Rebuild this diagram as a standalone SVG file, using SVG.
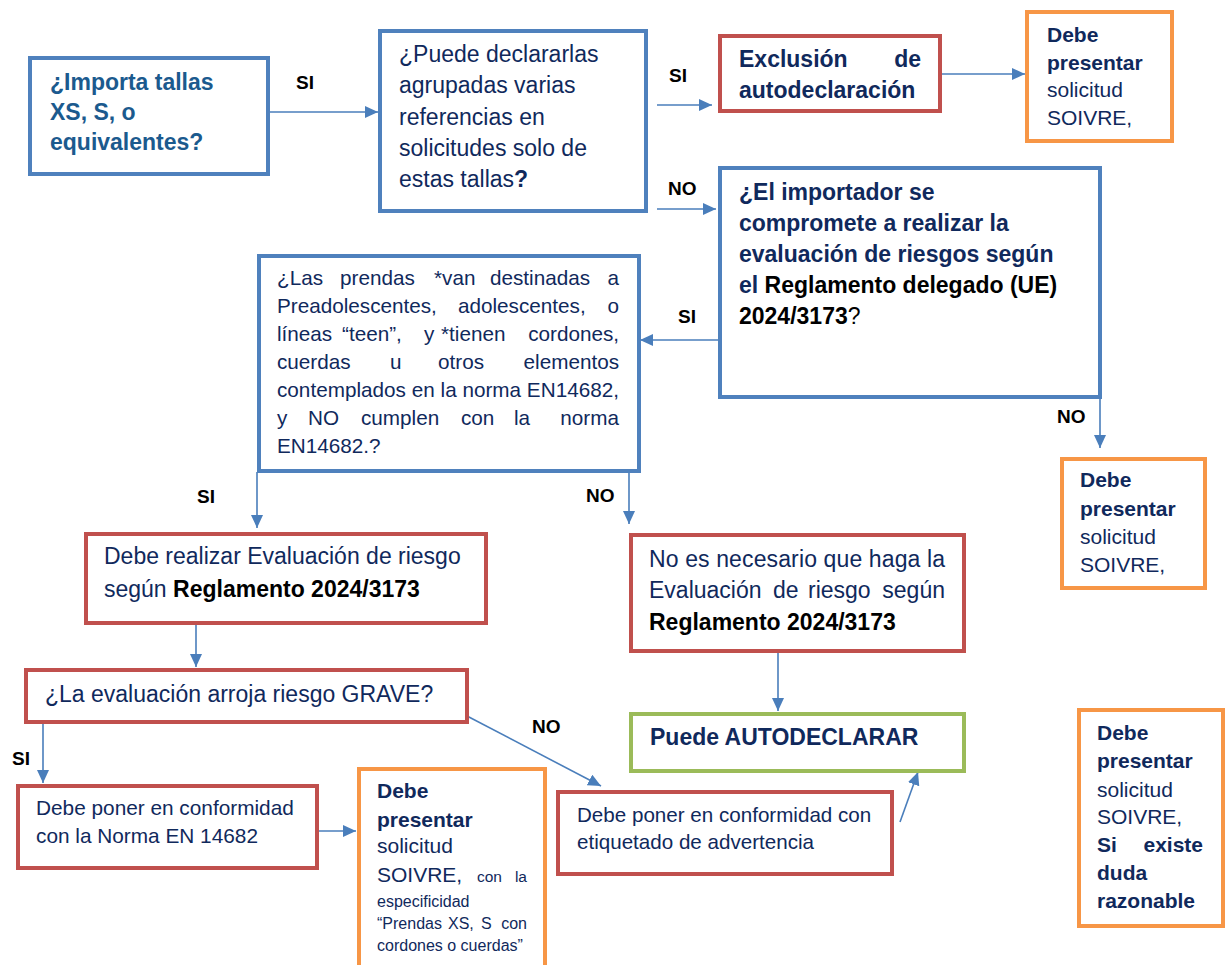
<svg xmlns="http://www.w3.org/2000/svg" width="1230" height="965" viewBox="0 0 1230 965">
<defs>
<style>
.bx{fill:#fff;stroke-width:4}
.blue{stroke:#4F81BD}
.red{stroke:#C0504D}
.org{stroke:#F79646}
.grn{stroke:#9BBB59}
text{font-family:"Liberation Sans",Arial,sans-serif}
.nv{fill:#10295C}
.tl{fill:#1B5A8E}
.bk{fill:#000}
.b{font-weight:bold}
.lbl{font-family:"Liberation Sans",Arial,sans-serif;font-weight:bold;font-size:19px;fill:#000}
.con line{stroke:#4A7EBB;stroke-width:1.6;marker-end:url(#ah)}
</style>
<marker id="ah" markerUnits="userSpaceOnUse" markerWidth="13" markerHeight="12" viewBox="0 0 13 12" refX="13" refY="6" orient="auto">
<path d="M0,0 L13,6 L0,12 z" fill="#4A7EBB"/>
</marker>
</defs>
<rect width="1230" height="965" fill="#fff"/>

<g class="con">
<line x1="269" y1="112" x2="378" y2="112"/>
<line x1="657" y1="105" x2="712" y2="105"/>
<line x1="657" y1="209" x2="716" y2="209"/>
<line x1="942" y1="74" x2="1025" y2="74"/>
<line x1="718" y1="340" x2="640" y2="340"/>
<line x1="1100" y1="398" x2="1100" y2="448"/>
<line x1="257" y1="472" x2="257" y2="528"/>
<line x1="629" y1="466" x2="629" y2="524"/>
<line x1="196" y1="623" x2="196" y2="667"/>
<line x1="778" y1="653" x2="778" y2="711"/>
<line x1="43" y1="723" x2="43" y2="783"/>
<line x1="467" y1="716" x2="601" y2="786"/>
<line x1="318" y1="831" x2="356" y2="831"/>
<line x1="900" y1="822" x2="918" y2="772"/>
</g>

<g id="labels">
<text class="lbl" x="296" y="89">SI</text>
<text class="lbl" x="669" y="82">SI</text>
<text class="lbl" x="668" y="195">NO</text>
<text class="lbl" x="678" y="323">SI</text>
<text class="lbl" x="1057" y="423">NO</text>
<text class="lbl" x="197" y="503">SI</text>
<text class="lbl" x="586" y="502">NO</text>
<text class="lbl" x="532" y="733">NO</text>
<text class="lbl" x="12" y="765">SI</text>
</g>

<g id="n1">
<rect class="bx blue" x="30" y="58" width="238" height="116"/>
<text class="tl b" font-size="23"><tspan x="50" y="90">¿Importa tallas</tspan><tspan x="50" y="120">XS, S, o</tspan><tspan x="50" y="150">equivalentes?</tspan></text>
</g>

<g id="n2">
<rect class="bx blue" x="380" y="31" width="266" height="180"/>
<text class="nv" font-size="23"><tspan x="399" y="62">¿Puede declararlas</tspan><tspan x="399" y="93">agrupadas varias</tspan><tspan x="399" y="125">referencias en</tspan><tspan x="399" y="156">solicitudes solo de</tspan><tspan x="399" y="187">estas tallas<tspan class="b">?</tspan></tspan></text>
</g>

<g id="n3">
<rect class="bx red" x="720" y="36" width="220" height="75"/>
<text class="nv b" font-size="23" x="739" y="67">Exclusión</text>
<text class="nv b" font-size="23" x="921" y="67" text-anchor="end">de</text>
<text class="nv b" font-size="23" x="739" y="98">autodeclaración</text>
</g>

<g id="n4">
<rect class="bx org" x="1027" y="12" width="145" height="129"/>
<text class="nv" font-size="21"><tspan class="b" x="1047" y="42">Debe</tspan><tspan class="b" x="1047" y="70">presentar</tspan><tspan x="1047" y="97">solicitud</tspan><tspan x="1047" y="125">SOIVRE,</tspan></text>
</g>

<g id="n5">
<rect class="bx blue" x="720" y="168" width="380" height="229"/>
<text class="b" font-size="23"><tspan class="nv" x="739" y="200">¿El importador se</tspan><tspan class="nv" x="739" y="231">compromete a realizar la</tspan><tspan class="nv" x="739" y="262">evaluación de riesgos según</tspan><tspan x="739" y="293"><tspan class="nv">el</tspan> <tspan class="bk">Reglamento delegado (UE)</tspan></tspan><tspan class="bk" x="739" y="324">2024/3173<tspan font-weight="normal">?</tspan></tspan></text>
</g>

<g id="n6">
<rect class="bx blue" x="259" y="256" width="380" height="215"/>
<g class="nv" font-size="20.7">
<text x="277" y="285">¿Las</text><text x="340" y="285">prendas</text><text x="434" y="285">*van</text><text x="490" y="285">destinadas</text><text x="619" y="285" text-anchor="end">a</text>
<text x="277" y="313">Preadolescentes,</text><text x="458" y="313">adolescentes,</text><text x="619" y="313" text-anchor="end">o</text>
<text x="277" y="341">líneas</text><text x="342" y="341">“teen”,</text><text x="424" y="341">y</text><text x="441" y="341">*tienen</text><text x="619" y="341" text-anchor="end">cordones,</text>
<text x="277" y="369">cuerdas</text><text x="390" y="369">u</text><text x="438" y="369">otros</text><text x="619" y="369" text-anchor="end">elementos</text>
<text x="277" y="397" textLength="342" lengthAdjust="spacing">contemplados en la norma EN14682,</text>
<text x="277" y="425">y</text><text x="308" y="425">NO</text><text x="361" y="425">cumplen</text><text x="461" y="425">con</text><text x="514" y="425">la</text><text x="619" y="425" text-anchor="end">norma</text>
<text x="277" y="453">EN14682.?</text>
</g>
</g>

<g id="n7">
<rect class="bx red" x="86" y="534" width="400" height="89"/>
<text font-size="23"><tspan class="nv" x="104" y="564">Debe realizar Evaluación de riesgo</tspan><tspan x="104" y="597"><tspan class="nv">según </tspan><tspan class="bk b">Reglamento 2024/3173</tspan></tspan></text>
</g>

<g id="n8">
<rect class="bx red" x="631" y="535" width="333" height="116"/>
<g font-size="23">
<text class="nv" x="649" y="567" textLength="296" lengthAdjust="spacing">No es necesario que haga la</text>
<text class="nv" x="649" y="598">Evaluación</text><text class="nv" x="773" y="598">de</text><text class="nv" x="808" y="598">riesgo</text><text class="nv" x="945" y="598" text-anchor="end">según</text>
<text class="bk b" x="649" y="630">Reglamento 2024/3173</text>
</g>
</g>

<g id="n9">
<rect class="bx org" x="1062" y="459" width="143" height="129"/>
<text class="nv" font-size="21"><tspan class="b" x="1080" y="487">Debe</tspan><tspan class="b" x="1080" y="516">presentar</tspan><tspan x="1080" y="544">solicitud</tspan><tspan x="1080" y="572">SOIVRE,</tspan></text>
</g>

<g id="n10">
<rect class="bx red" x="26" y="670" width="441" height="52"/>
<text class="nv" font-size="23" x="45" y="702">¿La evaluación arroja riesgo GRAVE?</text>
</g>

<g id="n11">
<rect class="bx grn" x="631" y="714" width="333" height="57"/>
<text class="nv b" font-size="23" x="650" y="745">Puede AUTODECLARAR</text>
</g>

<g id="n12">
<rect class="bx org" x="1079" y="710" width="144" height="216"/>
<g class="nv" font-size="21">
<text class="b" x="1097" y="740">Debe</text>
<text class="b" x="1097" y="768">presentar</text>
<text x="1097" y="797">solicitud</text>
<text x="1097" y="824">SOIVRE,</text>
<text class="b" x="1097" y="852">Si</text><text class="b" x="1203" y="852" text-anchor="end">existe</text>
<text class="b" x="1097" y="880">duda</text>
<text class="b" x="1097" y="908">razonable</text>
</g>
</g>

<g id="n13">
<rect class="bx red" x="18" y="786" width="299" height="82"/>
<text class="nv" font-size="20.8"><tspan x="36" y="815">Debe poner en conformidad</tspan><tspan x="36" y="843">con la Norma EN 14682</tspan></text>
</g>

<g id="n14">
<rect class="bx org" x="359" y="769" width="186" height="240"/>
<g class="nv">
<text class="b" font-size="21" x="377" y="798">Debe</text>
<text class="b" font-size="21" x="377" y="827">presentar</text>
<text font-size="21" x="377" y="853">solicitud</text>
<text font-size="21" x="377" y="882">SOIVRE,</text><text font-size="15.5" x="477" y="882">con</text><text font-size="15.5" x="527" y="882" text-anchor="end">la</text>
<text font-size="16" x="377" y="907">especificidad</text>
<text font-size="16" x="377" y="929">“Prendas</text><text font-size="16" x="448" y="929">XS,</text><text font-size="16" x="481" y="929">S</text><text font-size="16" x="527" y="929" text-anchor="end">con</text>
<text font-size="16" x="377" y="951">cordones o cuerdas”</text>
</g>
</g>

<g id="n15">
<rect class="bx red" x="558" y="792" width="334" height="82"/>
<text class="nv" font-size="20.6"><tspan x="577" y="822">Debe poner en conformidad con</tspan><tspan x="577" y="849">etiquetado de advertencia</tspan></text>
</g>
</svg>
